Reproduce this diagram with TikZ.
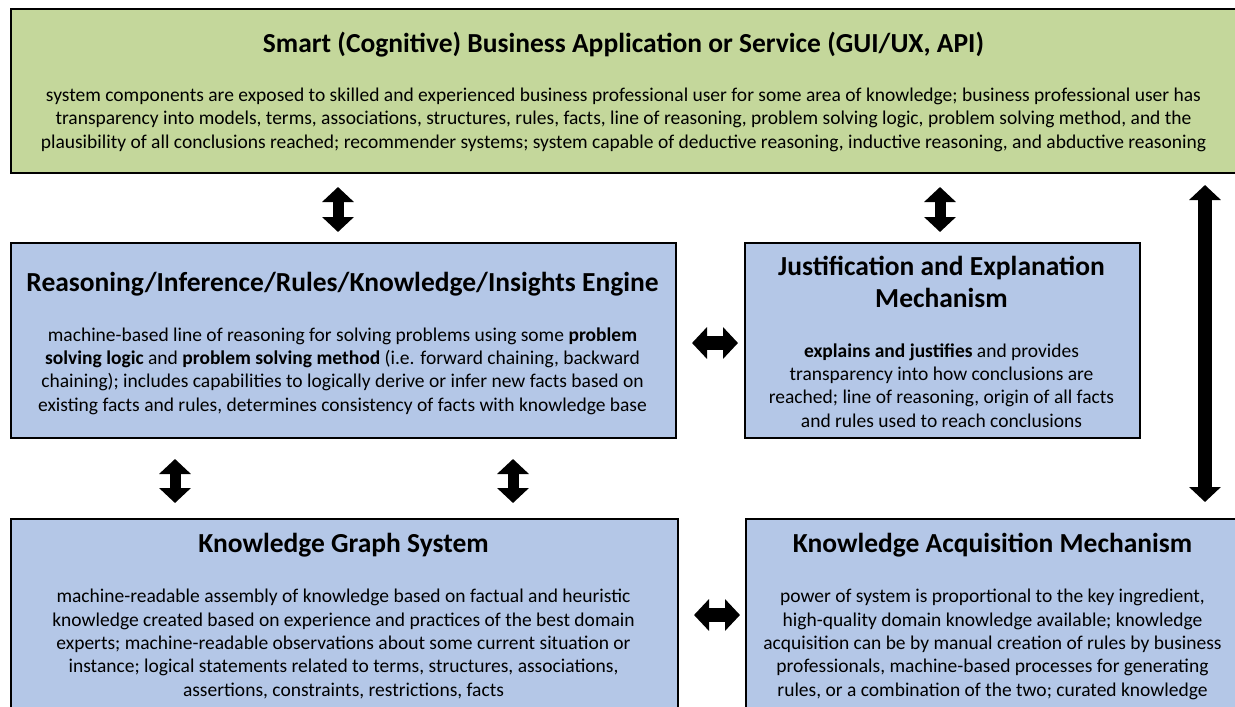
\documentclass[tikz,border=0pt]{standalone}
\usepackage{fontspec}
\setmainfont{Carlito}
\usetikzlibrary{arrows.meta,positioning}

\definecolor{appgreen}{RGB}{196,215,155}
\definecolor{partblue}{RGB}{180,199,231}

\tikzset{
  panel/.style={draw=black, line width=2pt, anchor=north west, inner sep=0pt},
  headtxt/.style={anchor=base, align=center, font=\bfseries\fontsize{27.5}{32}\selectfont},
  bodytxt/.style={anchor=base, align=center, font=\fontsize{19.5}{23.3}\selectfont},
  updown/.style={line width=11pt, {Triangle[width=31pt,length=15pt]}-{Triangle[width=31pt,length=15pt]}},
  leftright/.style={line width=14pt, {Triangle[width=31pt,length=15pt]}-{Triangle[width=31pt,length=15pt]}}
}

\begin{document}
\begin{tikzpicture}[x=1pt, y=-1pt]

            \useasboundingbox (0,0) rectangle (1235,707);
            \clip (0,0) rectangle (1235,707);

            % boxes
            \node[panel, fill=appgreen, minimum width=1227pt, minimum height=164pt] (app) at (10,8) {};
            \node[panel, fill=partblue, minimum width=665pt, minimum height=195pt] (reason) at (10,242) {};
            \node[panel, fill=partblue, minimum width=395pt, minimum height=195pt] (justif) at (744,242) {};
            \node[panel, fill=partblue, minimum width=667pt, minimum height=220pt] (graph) at (10,518) {};
            \node[panel, fill=partblue, minimum width=495pt, minimum height=220pt] (acquis) at (745,518) {};

            % texts (multi-line nodes sit on their last baseline)
            \node[headtxt] (appHead) at (623.5,52)
            {Smart (Cognitive) Business Application or Service (GUI/UX, API)};
            \node[bodytxt] (appBody) at (623.5,148)
            {system components are exposed to skilled and experienced business professional user for some area of knowledge; business professional user has\\
             transparency into models, terms, associations, structures, rules, facts, line of reasoning, problem solving logic, problem solving method, and the\\
             plausibility of all conclusions reached; recommender systems; system capable of deductive reasoning, inductive reasoning, and abductive reasoning};

            \node[headtxt] (reasonHead) at (342.5,291)
            {Reasoning/Inference/Rules/Knowledge/Insights Engine};
            \node[bodytxt] (reasonBody) at (342.5,411)
            {machine-based line of reasoning for solving problems using some \textbf{problem}\\
             \textbf{solving logic} and \textbf{problem solving method} (i.e. forward chaining, backward\\
             chaining); includes capabilities to logically derive or infer new facts based on\\
             existing facts and rules, determines consistency of facts with knowledge base};

            \node[headtxt] (justifHead) at (941.5,307)
            {Justification and Explanation\\ Mechanism};
            \node[bodytxt] (justifBody) at (941.5,427)
            {\textbf{explains and justifies} and provides\\
             transparency into how conclusions are\\
             reached; line of reasoning, origin of all facts\\
             and rules used to reach conclusions};

            \node[headtxt] (graphHead) at (343.5,552)
            {Knowledge Graph System};
            \node[bodytxt] (graphBody) at (343.5,696)
            {machine-readable assembly of knowledge based on factual and heuristic\\
             knowledge created based on experience and practices of the best domain\\
             experts; machine-readable observations about some current situation or\\
             instance; logical statements related to terms, structures, associations,\\
             assertions, constraints, restrictions, facts};

            \node[headtxt] (acquisHead) at (992.5,552)
            {Knowledge Acquisition Mechanism};
            \node[bodytxt] (acquisBody) at (992.5,696)
            {power of system is proportional to the key ingredient,\\
             high-quality domain knowledge available; knowledge\\
             acquisition can be by manual creation of rules by business\\
             professionals, machine-based processes for generating\\
             rules, or a combination of the two; curated knowledge};

            % connectors
            \coordinate (colA) at (338,0);
            \coordinate (colB) at (940,0);
            \coordinate (colC) at (175,0);
            \coordinate (colD) at (513,0);
            \coordinate (colE) at (1205,0);
            \coordinate (rowA) at (0,343);
            \coordinate (rowB) at (0,615);

            \draw[updown, shorten <=13pt, shorten >=10pt] (colA |- app.south) -- (colA |- reason.north);
            \draw[updown, shorten <=13pt, shorten >=10pt] (colB |- app.south) -- (colB |- justif.north);
            \draw[updown, shorten <=20pt, shorten >=15pt] (colC |- reason.south) -- (colC |- graph.north);
            \draw[updown, shorten <=20pt, shorten >=15pt] (colD |- reason.south) -- (colD |- graph.north);
            \draw[leftright, shorten <=11pt, shorten >=16pt] (colE |- app.south) -- (colE |- acquis.north);
            \draw[leftright, shorten <=15pt, shorten >=6pt] (reason.east |- rowA) -- (justif.west |- rowA);
            \draw[leftright, shorten <=15pt, shorten >=5pt] (graph.east |- rowB) -- (acquis.west |- rowB);

\end{tikzpicture}
\end{document}
